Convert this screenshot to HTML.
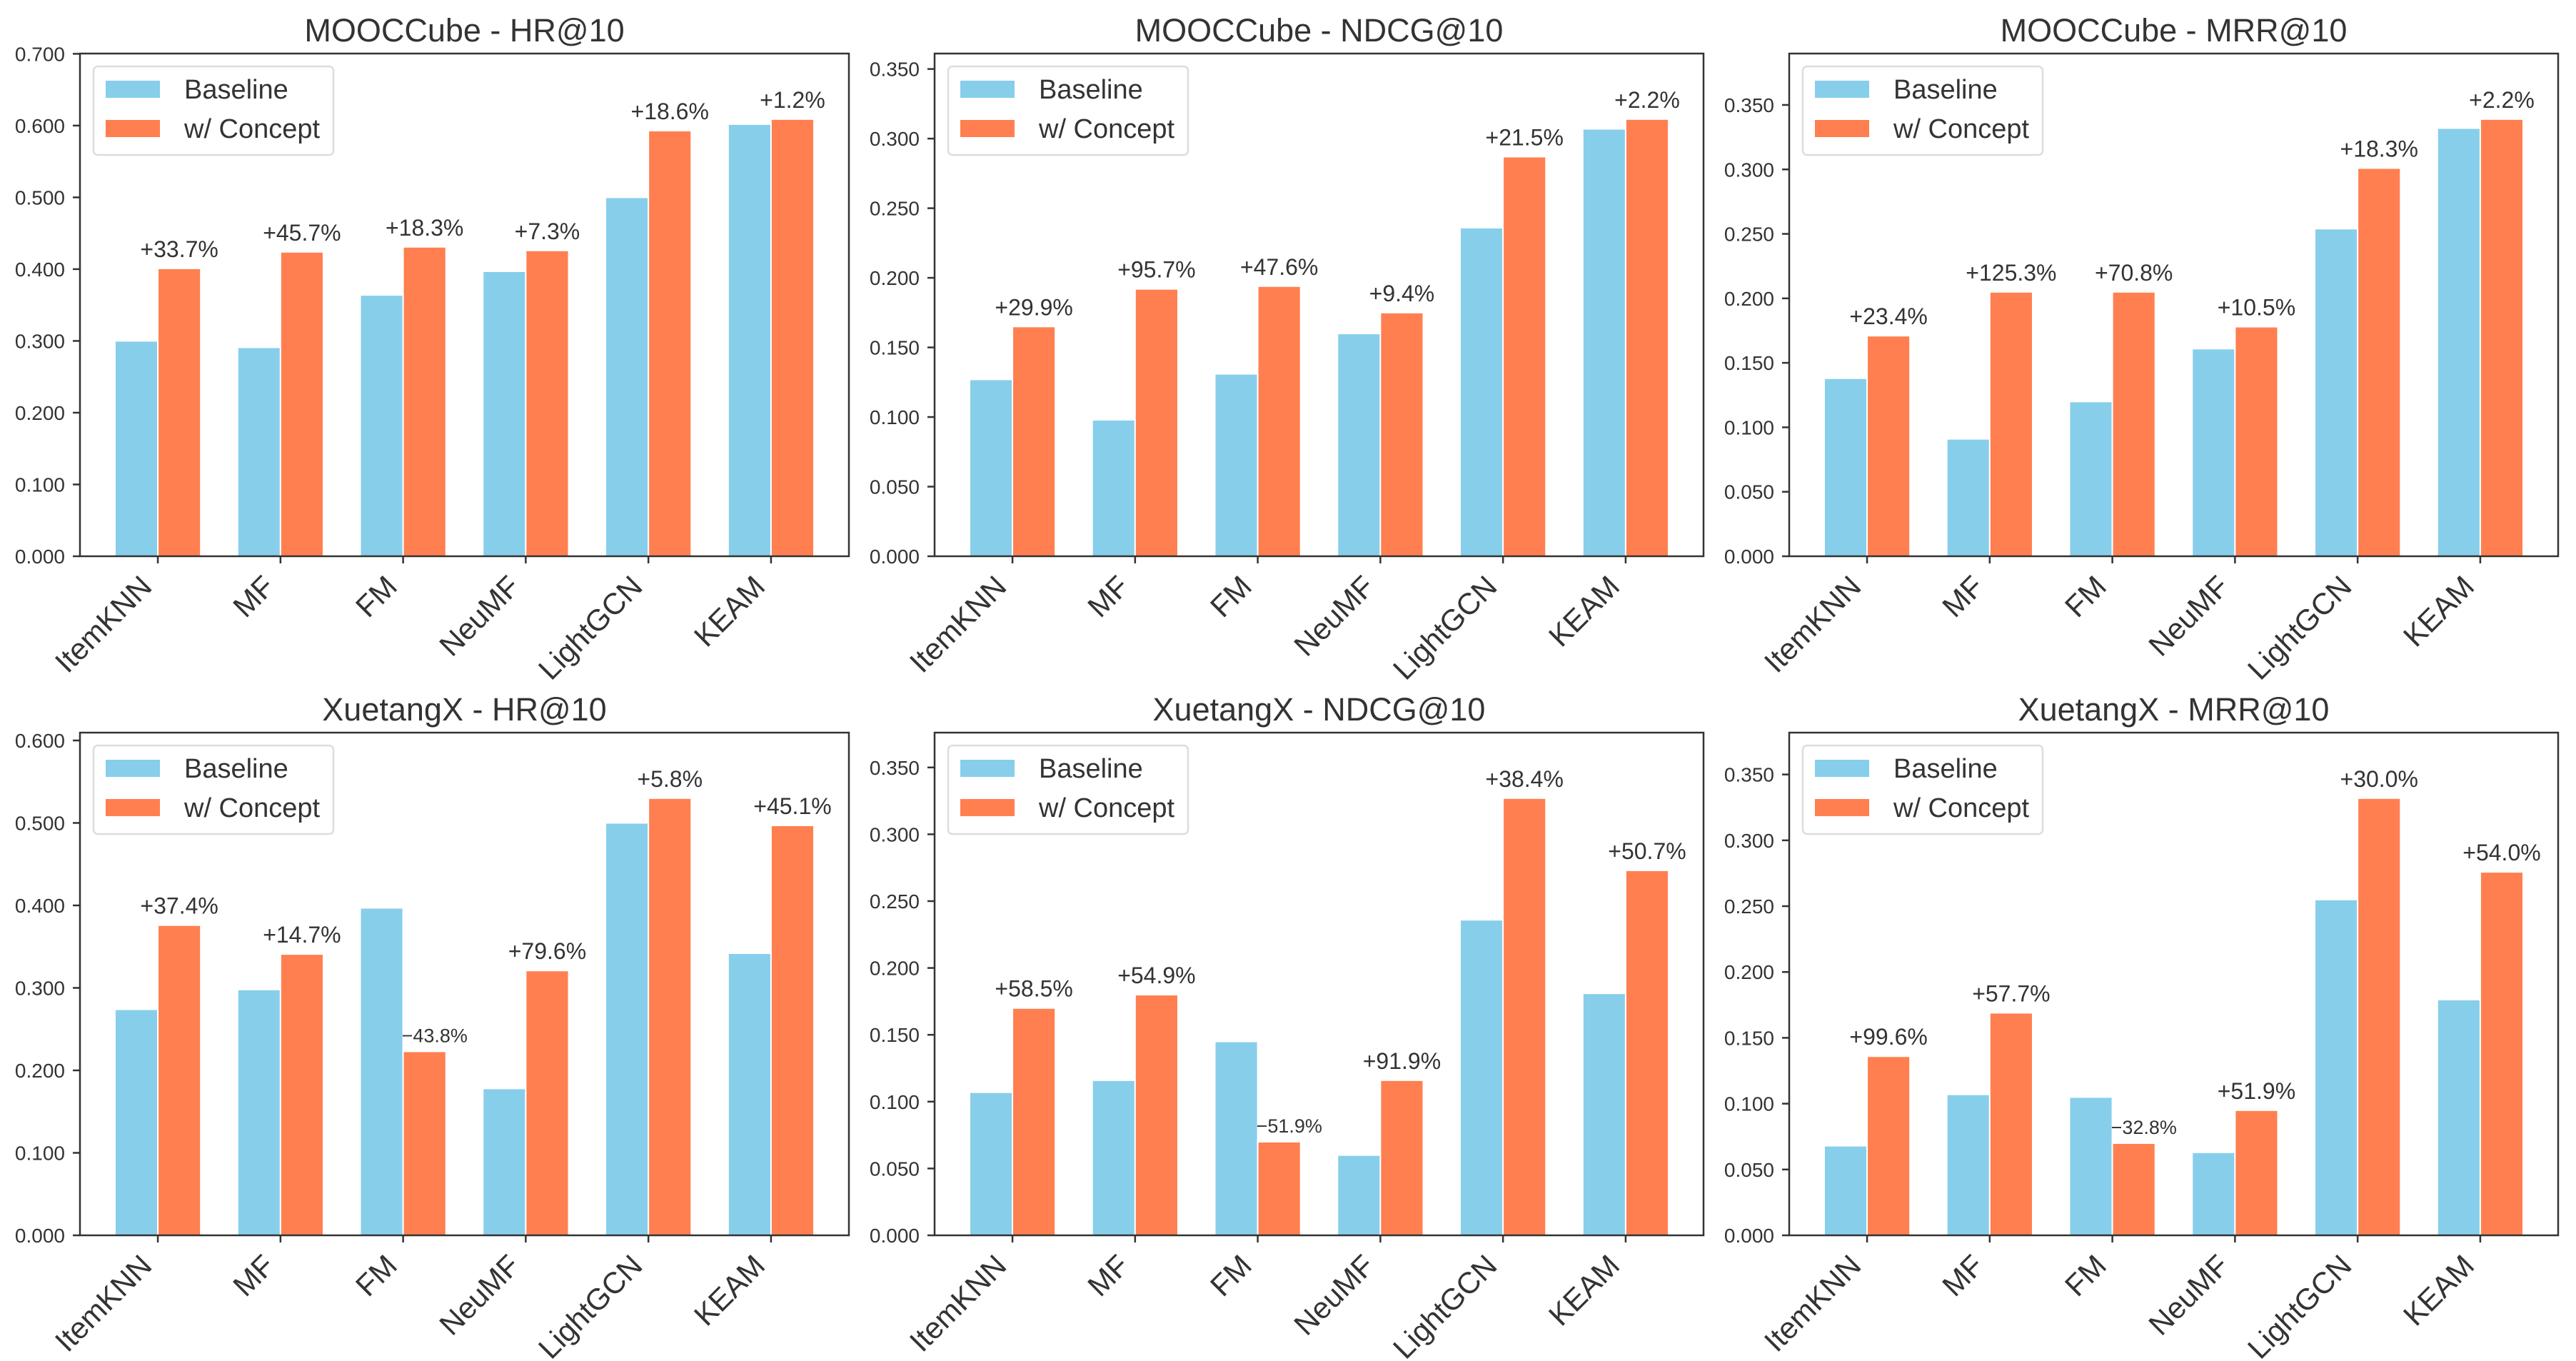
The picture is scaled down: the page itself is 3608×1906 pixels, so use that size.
<!DOCTYPE html>
<html><head><meta charset="utf-8"><style>
html,body{margin:0;padding:0;background:#fff;}
svg{display:block;font-family:"Liberation Sans",Arial,sans-serif;}
</style></head><body>
<svg id="fig" width="3608" height="1906" viewBox="0 0 3608 1906" xmlns="http://www.w3.org/2000/svg"></svg>
<script>
const categories = ["ItemKNN","MF","FM","NeuMF","LightGCN","KEAM"];
const titles = ["MOOCCube - HR@10","MOOCCube - NDCG@10","MOOCCube - MRR@10","XuetangX - HR@10","XuetangX - NDCG@10","XuetangX - MRR@10"];
const baseline1 = [0.300,0.291,0.364,0.397,0.500,0.602];
const concept1  = [0.401,0.424,0.431,0.426,0.593,0.609];
const labels1   = ["+33.7%","+45.7%","+18.3%","+7.3%","+18.6%","+1.2%"];
const baseline2 = [0.127,0.098,0.131,0.160,0.236,0.307];
const concept2  = [0.165,0.192,0.194,0.175,0.287,0.314];
const labels2   = ["+29.9%","+95.7%","+47.6%","+9.4%","+21.5%","+2.2%"];
const baseline3 = [0.138,0.091,0.120,0.161,0.254,0.332];
const concept3  = [0.171,0.205,0.205,0.178,0.301,0.339];
const labels3   = ["+23.4%","+125.3%","+70.8%","+10.5%","+18.3%","+2.2%"];
const baseline4 = [0.274,0.298,0.397,0.178,0.500,0.342];
const concept4  = [0.376,0.341,0.223,0.321,0.530,0.497];
const labels4   = ["+37.4%","+14.7%","\u221243.8%","+79.6%","+5.8%","+45.1%"];
const baseline5 = [0.107,0.116,0.145,0.060,0.236,0.181];
const concept5  = [0.170,0.180,0.070,0.116,0.327,0.273];
const labels5   = ["+58.5%","+54.9%","\u221251.9%","+91.9%","+38.4%","+50.7%"];
const baseline6 = [0.068,0.107,0.105,0.063,0.255,0.179];
const concept6  = [0.136,0.169,0.070,0.095,0.332,0.276];
const labels6   = ["+99.6%","+57.7%","\u221232.8%","+51.9%","+30.0%","+54.0%"];
const ticks1 = [0,0.1,0.2,0.3,0.4,0.5,0.6,0.7];
const ticks2 = [0,0.05,0.1,0.15,0.2,0.25,0.3,0.35];
const ticks4 = [0,0.1,0.2,0.3,0.4,0.5,0.6];

const panels = [
 {b:baseline1,c:concept1,l:labels1,t:ticks1,x:112,y:75},
 {b:baseline2,c:concept2,l:labels2,t:ticks2,x:1309,y:75},
 {b:baseline3,c:concept3,l:labels3,t:ticks2,x:2506,y:75},
 {b:baseline4,c:concept4,l:labels4,t:ticks4,x:112,y:1026},
 {b:baseline5,c:concept5,l:labels5,t:ticks2,x:1309,y:1026},
 {b:baseline6,c:concept6,l:labels6,t:ticks2,x:2506,y:1026}
];
const NS="http://www.w3.org/2000/svg";
const svg=document.getElementById('fig');
function mk(tag,attrs,parent,text){const e=document.createElementNS(NS,tag);for(const k in attrs)e.setAttribute(k,attrs[k]);if(text!==undefined)e.textContent=text;parent.appendChild(e);return e;}
const W=1077,H=704,TXT="#333";
panels.forEach((p,pi)=>{
  const g=mk('g',{},svg);
  
  
  const ymax=1.15*Math.max(...p.b,...p.c);
  const xmin=-0.635,xmax=5.635;
  const X=v=>p.x+(v-xmin)/(xmax-xmin)*W;
  const Y=v=>p.y+H-v/ymax*H;
  const bw=0.35;
  const t=mk('text',{x:p.x+W/2,y:p.y-17,'text-anchor':'middle','font-size':45,fill:TXT},g,titles[pi]);
  
  
  p.t.forEach(v=>{
    const y=Y(v);
    mk('line',{x1:p.x-10,x2:p.x,y1:y,y2:y,stroke:'#333','stroke-width':2.5},g);
    const tl=mk('text',{x:p.x-21,y:y+10,'text-anchor':'end','font-size':28,fill:TXT},g,v.toFixed(3));
    
    
  });
  categories.forEach((cat,i)=>{
    const bx=X(i-bw), cx=X(i), ex=X(i+bw);
    const r1=mk('rect',{x:bx,y:Y(p.b[i]),width:cx-bx,height:Y(0)-Y(p.b[i]),fill:'#87CEEB',stroke:'#fff','stroke-width':2},g);
    
    
    const r2=mk('rect',{x:cx,y:Y(p.c[i]),width:ex-cx,height:Y(0)-Y(p.c[i]),fill:'#FF7F50',stroke:'#fff','stroke-width':2},g);
    
    
    const lab=p.l[i];
    let a;
    if(lab.charAt(0)==='+'){
      a=mk('text',{x:(cx+ex)/2,y:Y(Math.max(p.c[i],p.b[i]))-16,'text-anchor':'middle','font-size':32,fill:TXT},g,lab);
    } else {
      a=mk('text',{x:cx-2,y:Y(p.c[i])-13,'text-anchor':'start','font-size':27,fill:TXT},g,lab);
    }
    
    
    mk('line',{x1:cx,x2:cx,y1:p.y+H,y2:p.y+H+10,stroke:'#333','stroke-width':2.5},g);
    const ax=cx-6, ay=p.y+H+45;
    const xl=mk('text',{x:ax,y:ay,'text-anchor':'end','font-size':42,fill:TXT,transform:'rotate(-45 '+ax+' '+ay+')'},g,cat);
    
    
  });
  const fr=mk('rect',{x:p.x,y:p.y,width:W,height:H,fill:'none',stroke:'#333','stroke-width':2.5},g);
  
  
  const lg=mk('g',{},g);
  
  
  const lx=p.x+19, ly=p.y+18;
  mk('rect',{x:lx,y:ly,width:336,height:124,rx:6,fill:'#fff',stroke:'#ddd','stroke-width':2.5},lg);
  const e1=mk('rect',{x:lx+17,y:ly+20,width:76,height:24,fill:'#87CEEB'},lg);
  
  
  const t1=mk('text',{x:lx+127,y:ly+45,'font-size':38,fill:TXT},lg,'Baseline');
  
  
  const e2=mk('rect',{x:lx+17,y:ly+75,width:76,height:24,fill:'#FF7F50'},lg);
  
  
  const t2=mk('text',{x:lx+127,y:ly+100,'font-size':38,fill:TXT},lg,'w/ Concept');
  
  
});
</script>
</body></html>
